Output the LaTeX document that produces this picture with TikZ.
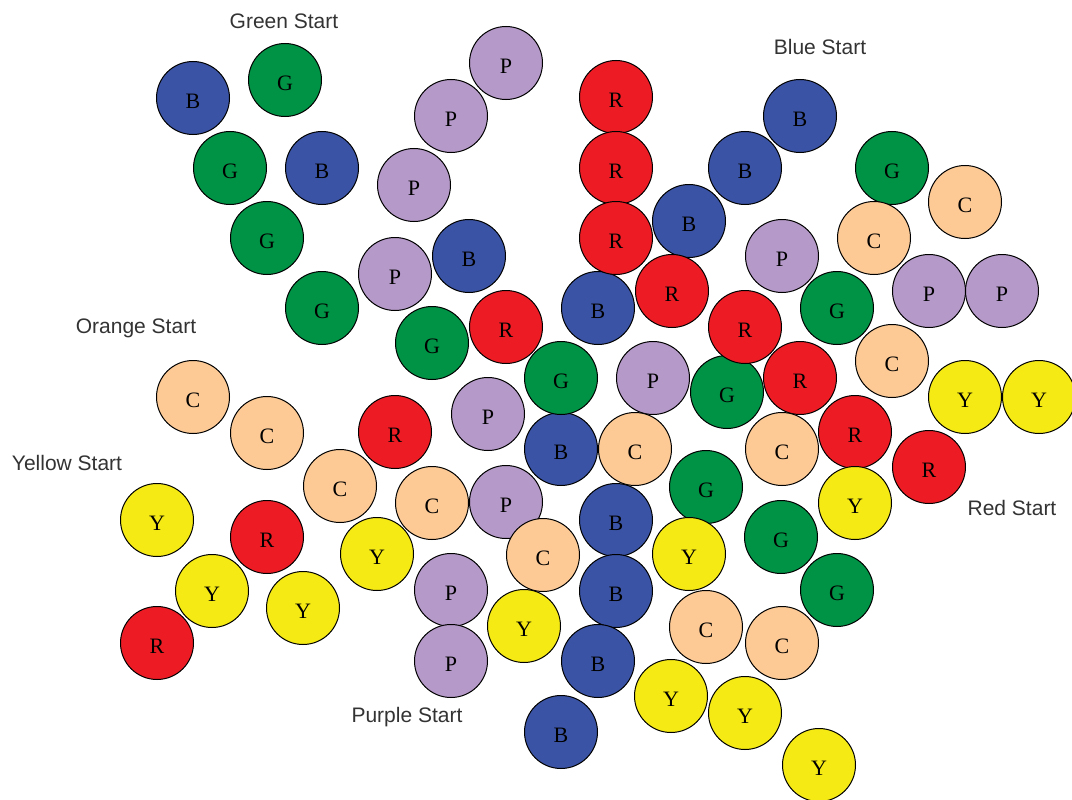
\documentclass[tikz,border=0pt]{standalone}
\usepackage{xcolor}
\usepackage{fontspec}
\setmainfont{Liberation Serif}
\newfontfamily\startfont{Liberation Sans}
\usepackage{tikz}
\usetikzlibrary{positioning}

\definecolor{ballB}{HTML}{3A53A4}
\definecolor{ballG}{HTML}{009245}
\definecolor{ballR}{HTML}{ED1C24}
\definecolor{ballP}{HTML}{B59AC9}
\definecolor{ballC}{HTML}{FDCA96}
\definecolor{ballY}{HTML}{F5EA14}
\definecolor{startgrey}{HTML}{333333}

\begin{document}
\begin{tikzpicture}[x=1pt,y=-1pt,
  every node/.style={inner sep=0pt},
  ball/.style={circle,draw=black,line width=1pt,minimum size=73pt,
    font=\fontsize{22}{22}\selectfont,text height=21pt,text depth=0pt},
  bB/.style={ball,fill=ballB},
  bG/.style={ball,fill=ballG},
  bR/.style={ball,fill=ballR},
  bP/.style={ball,fill=ballP},
  bC/.style={ball,fill=ballC},
  bY/.style={ball,fill=ballY},
  start/.style={text=startgrey,font=\startfont\fontsize{21}{21}\selectfont}]
  \useasboundingbox (0,0) rectangle (1072,800);
  % blue
  \node[bB] (B1) at (193,98) {B};
  \node[bB] (B2) at (322,168) {B};
  \node[bB] (B3) at (469,256) {B};
  \node[bB] (B4) at (689,221) {B};
  \node[bB] (B5) at (745,168) {B};
  \node[bB] (B6) at (800,116) {B};
  \node[bB] (B7) at (598,308) {B};
  \node[bB] (B8) at (561,449) {B};
  \node[bB] (B9) at (616,520) {B};
  \node[bB] (B10) at (616,591) {B};
  \node[bB] (B11) at (598,661) {B};
  \node[bB] (B12) at (561,732) {B};
  % green
  \node[bG] (G1) at (285,80) {G};
  \node[bG] (G2) at (230,168) {G};
  \node[bG] (G3) at (267,238) {G};
  \node[bG] (G4) at (322,308) {G};
  \node[bG] (G5) at (432,343) {G};
  \node[bG] (G6) at (561,378) {G};
  \node[bG] (G7) at (892,168) {G};
  \node[bG] (G8) at (837,308) {G};
  \node[bG] (G9) at (727,392) {G};
  \node[bG] (G10) at (706,487) {G};
  \node[bG] (G11) at (781,537) {G};
  \node[bG] (G12) at (837,590) {G};
  % red
  \node[bR] (R1) at (616,97) {R};
  \node[bR] (R2) at (616,168) {R};
  \node[bR] (R3) at (616,238) {R};
  \node[bR] (R4) at (672,291) {R};
  \node[bR] (R5) at (506,327) {R};
  \node[bR] (R6) at (745,327) {R};
  \node[bR] (R7) at (800,378) {R};
  \node[bR] (R8) at (855,432) {R};
  \node[bR] (R9) at (929,467) {R};
  \node[bR] (R10) at (395,432) {R};
  \node[bR] (R11) at (267,537) {R};
  \node[bR] (R12) at (157,643) {R};
  % purple
  \node[bP] (P1) at (506,63) {P};
  \node[bP] (P2) at (451,116) {P};
  \node[bP] (P3) at (414,185) {P};
  \node[bP] (P4) at (395,274) {P};
  \node[bP] (P5) at (782,256) {P};
  \node[bP] (P6) at (929,291) {P};
  \node[bP] (P7) at (1002,291) {P};
  \node[bP] (P8) at (653,378) {P};
  \node[bP] (P9) at (488,414) {P};
  \node[bP] (P10) at (506,502) {P};
  \node[bP] (P11) at (451,590) {P};
  \node[bP] (P12) at (451,661) {P};
  % orange
  \node[bC] (C1) at (965,202) {C};
  \node[bC] (C2) at (874,238) {C};
  \node[bC] (C3) at (892,361) {C};
  \node[bC] (C4) at (782,449) {C};
  \node[bC] (C5) at (635,449) {C};
  \node[bC] (C6) at (193,397) {C};
  \node[bC] (C7) at (267,433) {C};
  \node[bC] (C8) at (340,486) {C};
  \node[bC] (C9) at (432,503) {C};
  \node[bC] (C10) at (543,555) {C};
  \node[bC] (C11) at (706,627) {C};
  \node[bC] (C12) at (782,643) {C};
  % yellow
  \node[bY] (Y1) at (965,397) {Y};
  \node[bY] (Y2) at (1039,397) {Y};
  \node[bY] (Y3) at (855,503) {Y};
  \node[bY] (Y4) at (689,554) {Y};
  \node[bY] (Y5) at (377,554) {Y};
  \node[bY] (Y6) at (157,520) {Y};
  \node[bY] (Y7) at (212,591) {Y};
  \node[bY] (Y8) at (303,608) {Y};
  \node[bY] (Y9) at (524,626) {Y};
  \node[bY] (Y10) at (671,696) {Y};
  \node[bY] (Y11) at (745,713) {Y};
  \node[bY] (Y12) at (819,765) {Y};
  % start labels
  \node[start] (Gstart) at (284,21) {Green Start};
  \node[start] (Bstart) at (820,47) {Blue Start};
  \node[start] (Cstart) at (136,328) {Orange Start};
  \node[start] (Ystart) at (67,463) {Yellow Start};
  \node[start] (Rstart) at (1012,508) {Red Start};
  \node[start] (Pstart) at (407,717) {Purple Start};
\end{tikzpicture}
\end{document}
